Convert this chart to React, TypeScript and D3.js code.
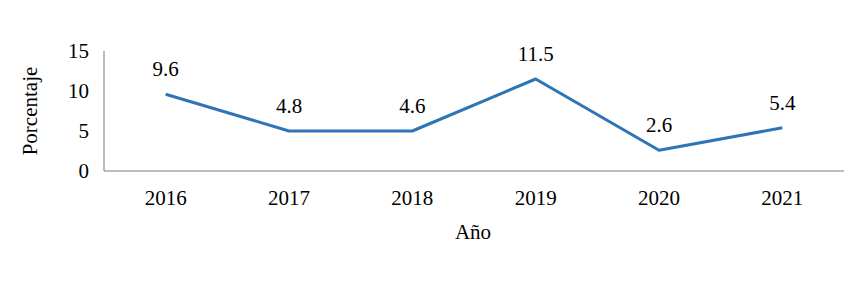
import React from "react";
import * as d3 from "d3";

const years = ["2016", "2017", "2018", "2019", "2020", "2021"];
const values = [9.6, 5.0, 5.0, 11.5, 2.6, 5.4];
const valueLabels = ["9.6", "4.8", "4.6", "11.5", "2.6", "5.4"];
const yTicks = [0, 5, 10, 15];

const W = 855;
const H = 282;
const left = 104;
const right = 844;
const top = 51;
const bottom = 171;
const font = "Liberation Serif";
const fs = 21;

export default function App() {
  const x = d3.scaleBand<string>().domain(years).range([left, right]);
  const y = d3.scaleLinear().domain([0, 15]).range([bottom, top]);
  const cx = (i: number) => (x(years[i]) as number) + x.bandwidth() / 2;
  const line = d3
    .line<number>()
    .x((_, i) => cx(i))
    .y((d) => y(d));

  return (
    <svg width={W} height={H} style={{ position: "absolute", left: 0, top: 0, background: "#fff" }}>
      <line x1={left} x2={left} y1={top} y2={bottom} stroke="#a6a6a6" strokeWidth={1.5} />
      <line x1={left} x2={right} y1={bottom} y2={bottom} stroke="#a6a6a6" strokeWidth={1.5} />
      {yTicks.map((t) => (
        <text key={t} x={89} y={y(t)} dy="0.33em" textAnchor="end" style={{ fontFamily: font, fontSize: fs }} fill="#000">
          {t}
        </text>
      ))}
      {years.map((yr, i) => (
        <text key={yr} x={cx(i)} y={198} dy="0.33em" textAnchor="middle" style={{ fontFamily: font, fontSize: fs }} fill="#000">
          {yr}
        </text>
      ))}
      <path d={line(values) || ""} fill="none" stroke="#2e75b6" strokeWidth={3} strokeLinejoin="round" />
      {values.map((v, i) => (
        <text key={i} x={cx(i)} y={y(v) - 25} dy="0.33em" textAnchor="middle" style={{ fontFamily: font, fontSize: fs }} fill="#000">
          {valueLabels[i]}
        </text>
      ))}
      <text x={473} y={232} dy="0.33em" textAnchor="middle" style={{ fontFamily: font, fontSize: fs }} fill="#000">
        Año
      </text>
      <text transform={`translate(30,111) rotate(-90)`} dy="0.33em" textAnchor="middle" style={{ fontFamily: font, fontSize: fs }} fill="#000">
        Porcentaje
      </text>
    </svg>
  );
}
